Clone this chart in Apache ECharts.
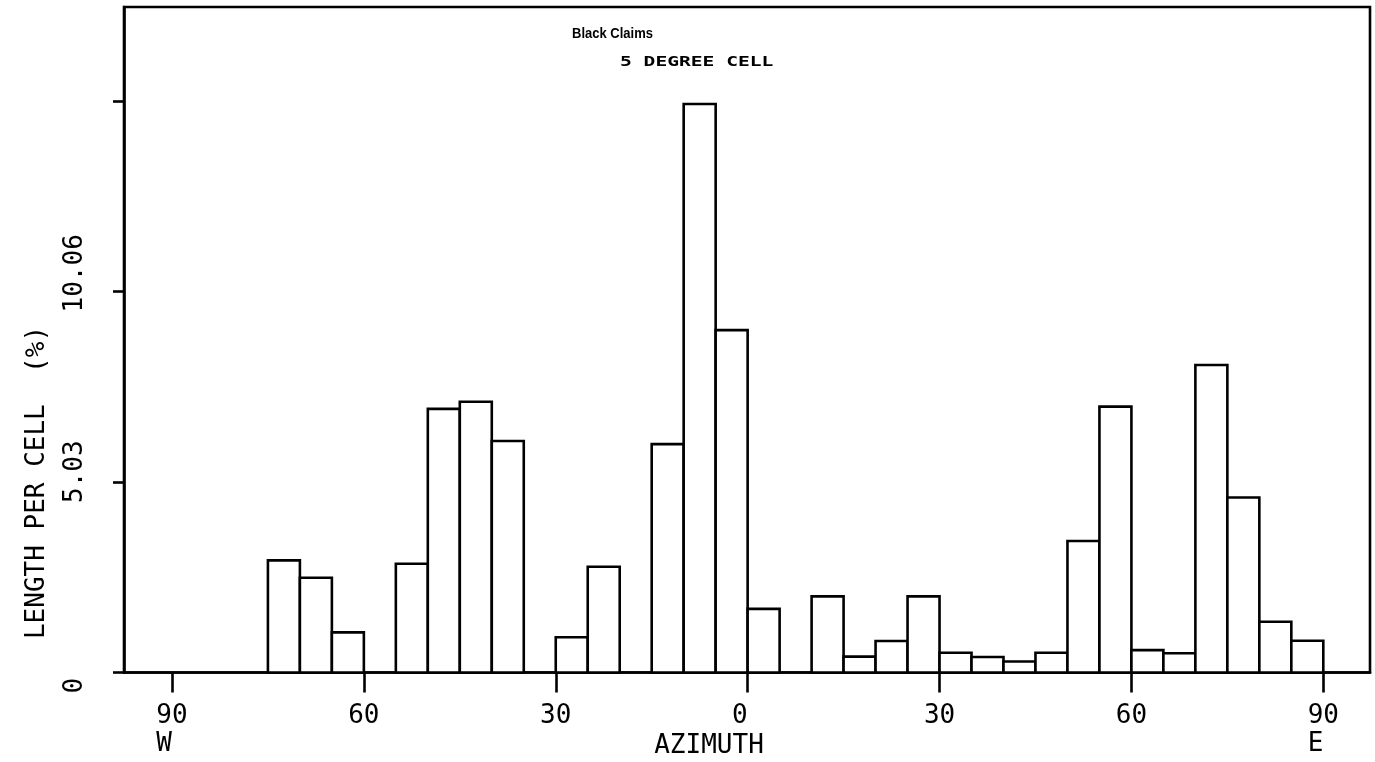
<!DOCTYPE html>
<html>
<head>
<meta charset="utf-8">
<script src="https://cdn.jsdelivr.net/npm/echarts@6/dist/echarts.min.js"></script>
<style>
  html, body { margin: 0; padding: 0; background: #fff; }
  #chart { width: 1375px; height: 762px; }
</style>
</head>
<body>
<div id="chart"></div>
<script>
// ---- data ----
const binStarts = [-90, -85, -80, -75, -70, -65, -60, -55, -50, -45, -40, -35,
                   -30, -25, -20, -15, -10, -5, 0, 5, 10, 15, 20, 25,
                   30, 35, 40, 45, 50, 55, 60, 65, 70, 75, 80, 85];
const binWidth = 5;
const lengthPct = [0, 0, 0, 2.96, 2.50, 1.06, 0, 2.87, 6.96, 7.15, 6.11, 0,
                   0.93, 2.79, 0, 6.03, 15.01, 9.04, 1.68, 0, 2.01, 0.42, 0.83, 2.01,
                   0.52, 0.41, 0.29, 0.52, 3.47, 7.02, 0.59, 0.51, 8.12, 4.62, 1.34, 0.84];
const xTickValues = [-90, -60, -30, 0, 30, 60, 90];
const xTickLabels = ['90\nW ', '60', '30', '0 ', '30', '60', '90\nE '];
const yTickValues = [0, 5.03, 10.06, 15.09];
const yLabelValues = [0, 5.03, 10.06];
const yLabelTexts = ['0', '5.03', '10.06'];
const titleLine1 = 'Black Claims';
const titleLine2 = '5 DEGREE CELL';
const xAxisTitle = 'AZIMUTH';
const yAxisTitle = 'LENGTH PER CELL  (%)';

const MONO = '"DejaVu Sans Mono", monospace';

function lookup(values, texts, v) {
  for (let i = 0; i < values.length; i++) {
    if (Math.abs(values[i] - v) < 1e-6) return texts[i];
  }
  return '';
}

const barData = binStarts.map((s, i) => [s, s + binWidth, lengthPct[i]]);

const chart = echarts.init(document.getElementById('chart'), null, { renderer: 'canvas' });
chart.setOption({
  animation: false,
  backgroundColor: '#fff',
  grid: {
    left: 124, top: 7, right: 5, bottom: 89.5,
    show: true, borderColor: '#000', borderWidth: 2.6, backgroundColor: 'transparent'
  },
  xAxis: {
    type: 'value',
    min: -97.5, max: 97.3,
    splitLine: { show: false },
    axisLine: { show: true, onZero: false, lineStyle: { color: '#000', width: 2.6 } },
    axisTick: { show: true, customValues: xTickValues, length: 20, lineStyle: { color: '#000', width: 2.6 } },
    axisLabel: {
      customValues: xTickValues,
      formatter: v => lookup(xTickValues, xTickLabels, v),
      fontFamily: MONO, fontSize: 26, color: '#000', lineHeight: 28, margin: 30
    }
  },
  yAxis: {
    type: 'value',
    min: 0, max: 17.57,
    splitLine: { show: false },
    axisLine: { show: true, onZero: false, lineStyle: { color: '#000', width: 2.6 } },
    axisTick: { show: true, customValues: yTickValues, length: 11, lineStyle: { color: '#000', width: 2.6 } },
    axisLabel: {
      customValues: yLabelValues,
      formatter: v => lookup(yLabelValues, yLabelTexts, v),
      rotate: 90, align: 'left', verticalAlign: 'middle',
      padding: [0, 0, 0, -21],
      fontFamily: MONO, fontSize: 26, color: '#000', margin: 49
    }
  },
  graphic: [
    { type: 'text', x: 572, y: 33.5, scaleY: 1.15, style: { text: titleLine1, font: 'bold 13px "Liberation Sans", Arial, sans-serif', fill: '#000', textAlign: 'left', textVerticalAlign: 'middle' } },
    { type: 'text', x: 620, y: 62.5, scaleX: 1.4, style: { text: titleLine2, font: 'bold 14px "DejaVu Sans Mono", monospace', fill: '#000', textAlign: 'left', textVerticalAlign: 'middle' } },
    { type: 'text', x: 709, y: 746, style: { text: xAxisTitle, font: '26px "DejaVu Sans Mono", monospace', fill: '#000', textAlign: 'center', textVerticalAlign: 'middle' } },
    { type: 'text', x: 37, y: 482.5, rotation: Math.PI / 2, style: { text: yAxisTitle, font: '26px "DejaVu Sans Mono", monospace', fill: '#000', textAlign: 'center', textVerticalAlign: 'middle' } }
  ],
  series: [{
    type: 'custom',
    coordinateSystem: 'cartesian2d',
    encode: { x: [0, 1], y: 2 },
    data: barData,
    renderItem: function (params, api) {
      const v = api.value(2);
      if (!v) return null;
      const p0 = api.coord([api.value(0), v]);
      const p1 = api.coord([api.value(1), 0]);
      return {
        type: 'rect',
        shape: { x: p0[0], y: p0[1], width: p1[0] - p0[0], height: p1[1] - p0[1] },
        style: { fill: '#fff', stroke: '#000', lineWidth: 2.6 }
      };
    }
  }]
});
</script>
</body>
</html>
